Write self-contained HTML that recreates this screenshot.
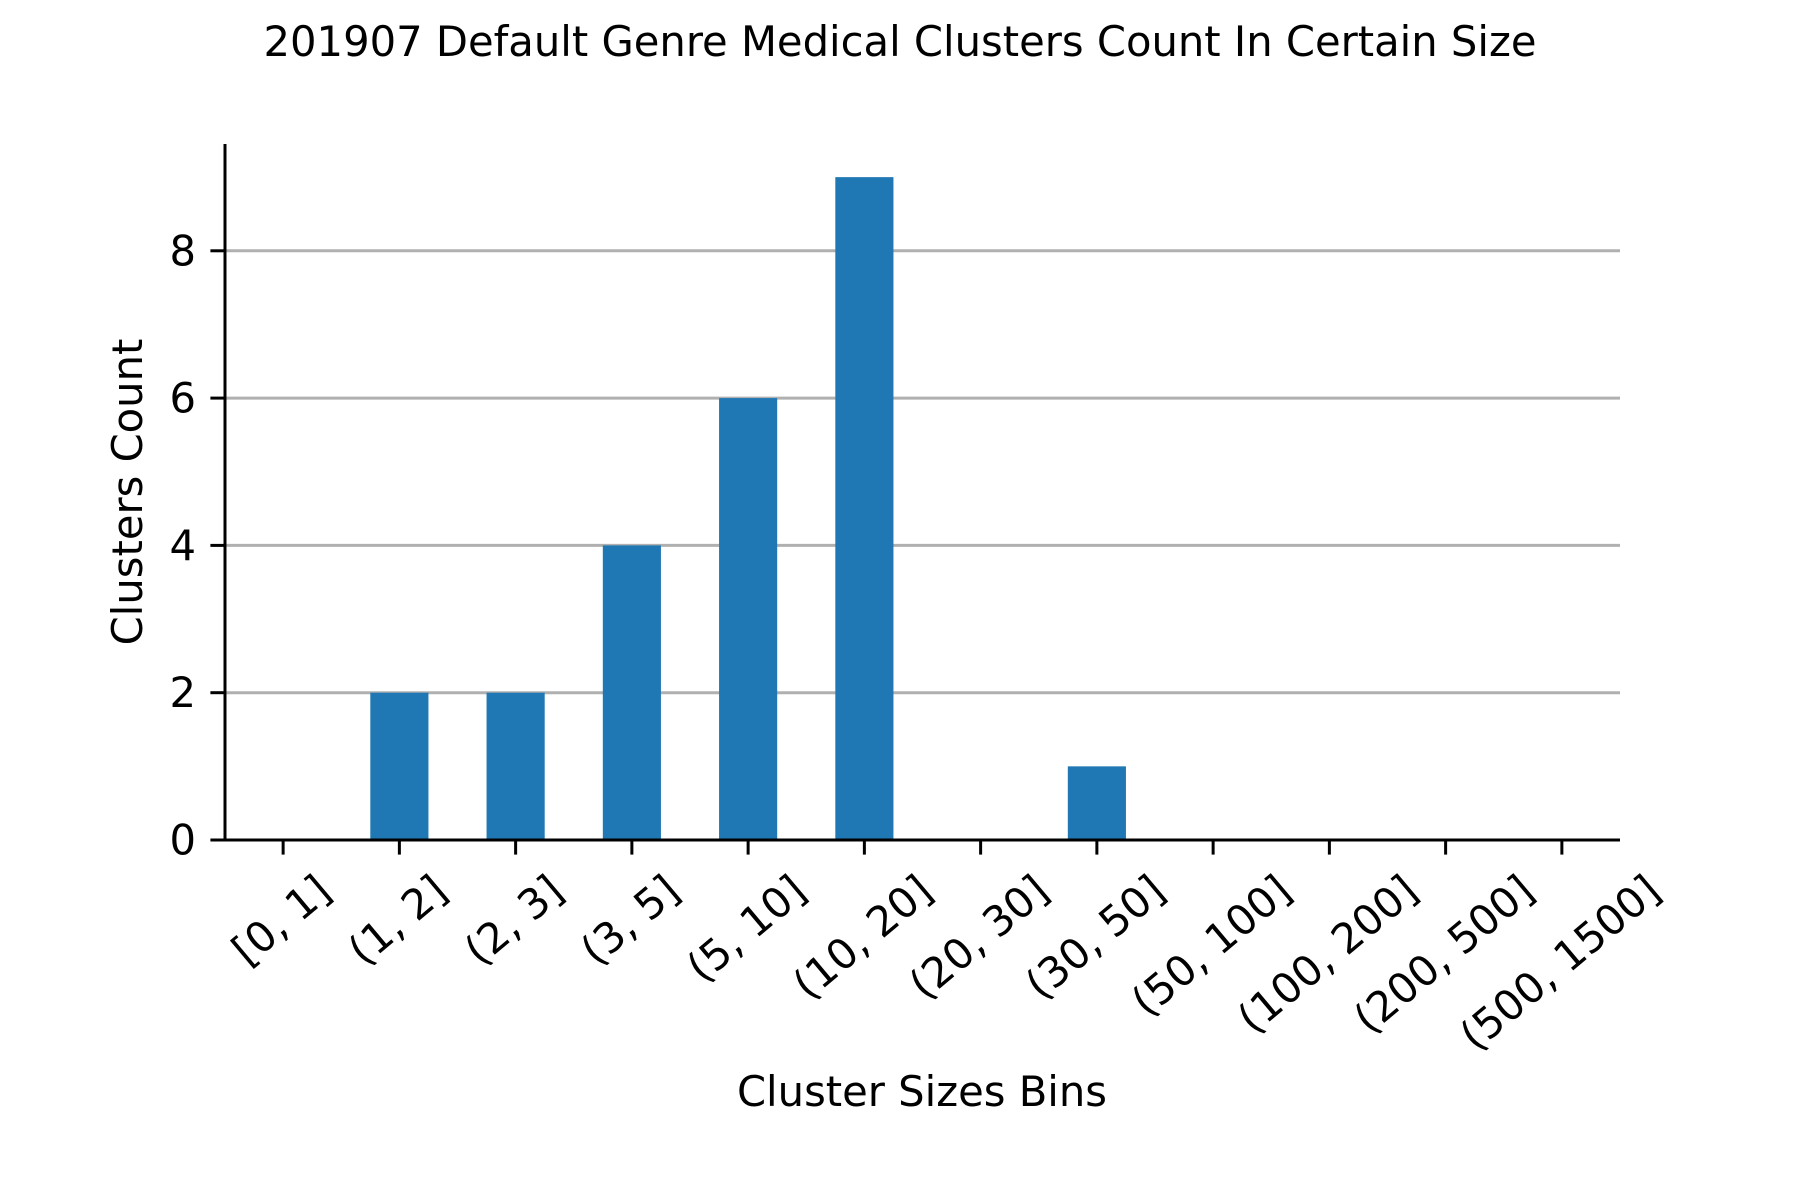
<!DOCTYPE html>
<html><head><meta charset="utf-8"><style>
html,body{margin:0;padding:0;background:#fff}
svg{display:block}
text{font-family:"DejaVu Sans","Liberation Sans",sans-serif;fill:#000}
</style></head><body>
<svg id="chart" width="1800" height="1200" xmlns="http://www.w3.org/2000/svg">
<text x="900" y="56" font-size="41.7" text-anchor="middle">201907 Default Genre Medical Clusters Count In Certain Size</text>
<g id="grid"></g><g id="bars"></g><g id="axes"></g>
<text x="922" y="1106" font-size="41.7" text-anchor="middle">Cluster Sizes Bins</text>
<text transform="translate(142,492) rotate(-90)" font-size="41.7" text-anchor="middle">Clusters Count</text>
</svg>
<script>
const categories = ["[0, 1]","(1, 2]","(2, 3]","(3, 5]","(5, 10]","(10, 20]","(20, 30]","(30, 50]","(50, 100]","(100, 200]","(200, 500]","(500, 1500]"];
const counts = [0,2,2,4,6,9,0,1,0,0,0,0];
const yTicks = [0,2,4,6,8];

const NS="http://www.w3.org/2000/svg";
const L=225,R=1620,T=144,B=840;
const yMax=Math.max(...counts)*1.05;
const xs=i=>L+(R-L)/categories.length*(i+0.5);
const ys=v=>B-(v/yMax)*(B-T);
const bw=(R-L)/categories.length*0.5;
function mk(tag,attrs,parent){const e=document.createElementNS(NS,tag);for(const k in attrs)e.setAttribute(k,attrs[k]);document.getElementById(parent).appendChild(e);return e;}
yTicks.forEach(v=>{
  if(v>0){const g=mk('line',{x1:L,x2:R,y1:ys(v),y2:ys(v),stroke:'#b0b0b0','stroke-width':3},'grid');
  
  }
  const t=mk('line',{x1:L-14.6,x2:L,y1:ys(v),y2:ys(v),stroke:'#000','stroke-width':3},'axes');
  
  
  const lb=mk('text',{x:L-29,y:ys(v),'font-size':41.7,'text-anchor':'end','dominant-baseline':'central'},'axes');
  lb.textContent=v;
  
  
});
counts.forEach((v,i)=>{
  const r=mk('rect',{x:xs(i)-bw/2,y:ys(v),width:bw,height:B-ys(v),fill:'#1f77b4'},'bars');
  
  
});
const sl=mk('line',{x1:L,x2:L,y1:T,y2:B+1.5,stroke:'#000','stroke-width':3},'axes');


const sb=mk('line',{x1:L-1.5,x2:R,y1:B,y2:B,stroke:'#000','stroke-width':3},'axes');


categories.forEach((c,i)=>{
  const t=mk('line',{x1:xs(i),x2:xs(i),y1:B,y2:B+14.6,stroke:'#000','stroke-width':3},'axes');
  
  
  const lb=mk('text',{x:0,y:0,'font-size':41.7,'text-anchor':'middle','dominant-baseline':'central'},'axes');
  lb.textContent=c;
  
  
  const w=lb.getComputedTextLength();
  const a=40*Math.PI/180;
  const hh=(w*Math.sin(a)+41.7*Math.cos(a))/2;
  lb.setAttribute('transform','translate('+(xs(i)-2)+','+(B+28+hh)+') rotate(-40)');
});
</script>
</body></html>
